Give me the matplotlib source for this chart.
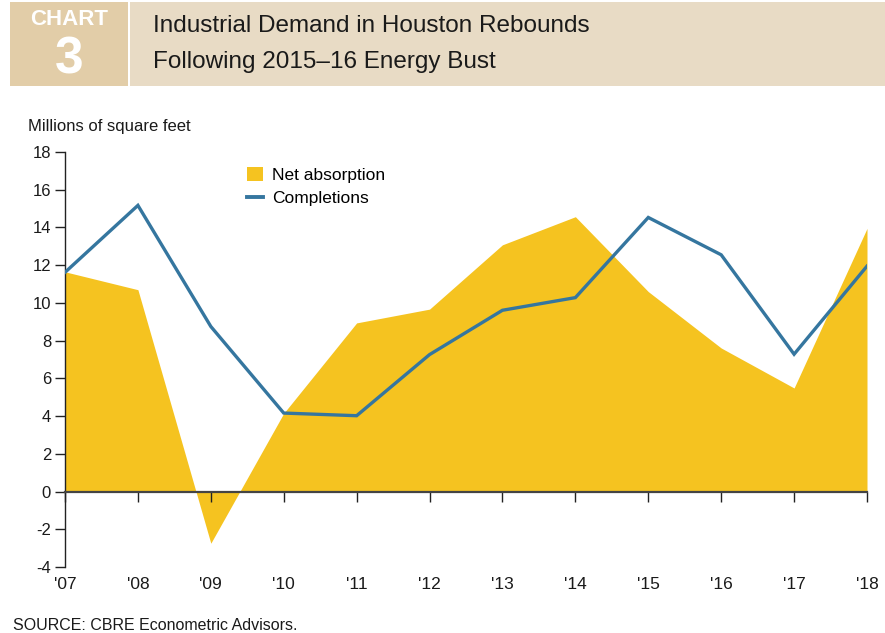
import matplotlib
matplotlib.use("Agg")
import matplotlib.pyplot as plt
from matplotlib.patches import Rectangle
from matplotlib.lines import Line2D
import numpy as np


years = ["'07", "'08", "'09", "'10", "'11", "'12", "'13", "'14", "'15", "'16", "'17", "'18"]
net_absorption = [11.65, 10.7, -2.74, 4.15, 8.94, 9.67, 13.08, 14.57, 10.6, 7.61, 5.49, 13.95]
completions = [11.62, 15.17, 8.75, 4.16, 4.02, 7.26, 9.61, 10.28, 14.53, 12.55, 7.28, 11.95]
y_ticks = [-4, -2, 0, 2, 4, 6, 8, 10, 12, 14, 16, 18]

YELLOW = "#f5c320"
BLUE = "#35769f"
DARK_TAN = "#e2cda8"
LIGHT_TAN = "#e8dbc5"

plt.rcParams['font.family'] = ['Liberation Sans', 'DejaVu Sans']

W, H = 885, 633
fig = plt.figure(figsize=(W / 100, H / 100), dpi=100)


def fx(px):
    return px / W


def fy(py):
    return 1 - py / H


# header band
fig.patches.append(Rectangle((fx(10), fy(86)), fx(118), 84 / H, transform=fig.transFigure,
                             facecolor=DARK_TAN, edgecolor="none", zorder=0))
fig.patches.append(Rectangle((fx(130), fy(86)), fx(755), 84 / H, transform=fig.transFigure,
                             facecolor=LIGHT_TAN, edgecolor="none", zorder=0))
fig.text(fx(69.5), fy(19.5), "CHART", color="white", fontsize=16, fontweight="bold",
         ha="center", va="center")
fig.text(fx(69), fy(60), "3", color="white", fontsize=37, fontweight="bold",
         ha="center", va="center")
fig.text(fx(153), fy(26), "Industrial Demand in Houston Rebounds", fontsize=17.5,
         color="#1a1a1a", ha="left", va="center")
fig.text(fx(153), fy(62), "Following 2015\u201316 Energy Bust", fontsize=17.5,
         color="#1a1a1a", ha="left", va="center")

fig.text(fx(28), fy(126), "Millions of square feet", fontsize=12, ha="left", va="center",
         color="#1a1a1a")
fig.text(fx(13), fy(626), "SOURCE: CBRE Econometric Advisors.", fontsize=11.5,
         ha="left", va="center", color="#1a1a1a")

ax = fig.add_axes([fx(65), fy(567), fx(867 - 65), (567 - 152) / H])
x = np.arange(len(years))

ax.fill_between(x, net_absorption, 0, color=YELLOW, linewidth=0, zorder=1)
ax.plot(x, completions, color=BLUE, linewidth=2.4, solid_joinstyle="miter", zorder=3)

ax.set_xlim(0, len(years) - 1)
ax.set_ylim(-4, 18)
ax.set_yticks(y_ticks)
ax.set_yticklabels([str(v) for v in y_ticks], fontsize=12, color="#1a1a1a")
ax.tick_params(axis="y", direction="out", length=7, width=1, pad=3, color="#222222")

for s in ["top", "right"]:
    ax.spines[s].set_visible(False)
ax.spines["left"].set_linewidth(1)
ax.spines["left"].set_color("#222222")
ax.spines["bottom"].set_position(("data", 0))
ax.spines["bottom"].set_linewidth(1.6)
ax.spines["bottom"].set_color("#444444")
ax.spines["bottom"].set_zorder(4)
ax.set_xticks(x)
ax.set_xticklabels([])
ax.tick_params(axis="x", direction="out", length=7, width=1, color="#222222")

sec = ax.secondary_xaxis("bottom")
sec.set_xticks(x)
sec.set_xticklabels(years, fontsize=12.5, color="#1a1a1a")
sec.tick_params(length=0, pad=7)
sec.spines["bottom"].set_visible(False)

handles = [Rectangle((0, 0), 1, 1, facecolor=YELLOW, edgecolor="none"),
           Line2D([], [], color=BLUE, linewidth=2.8)]
leg = ax.legend(handles, ["Net absorption", "Completions"], loc="upper left",
                bbox_to_anchor=((247 - 65) / (867 - 65), (567 - 167) / (567 - 152)),
                frameon=False, fontsize=12.5, handlelength=0.9, handleheight=0.9,
                handletextpad=0.55, labelspacing=0.4, borderaxespad=0, borderpad=0)

fig.savefig("out.png", dpi=100)
